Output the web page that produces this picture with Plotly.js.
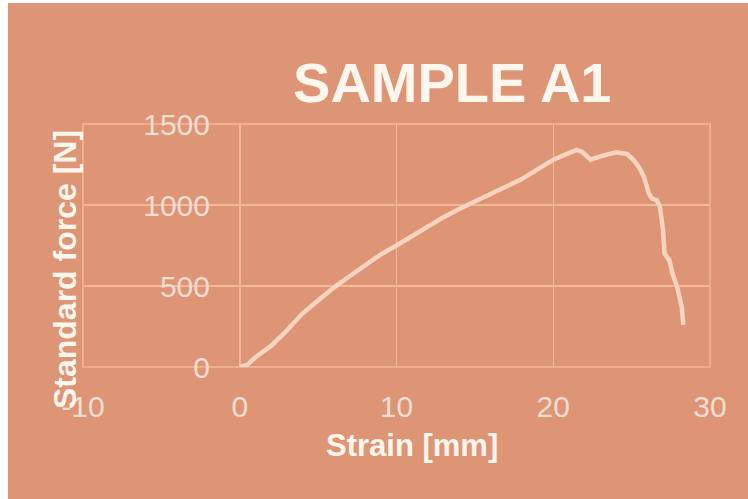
<!DOCTYPE html>
<html>
<head>
<meta charset="utf-8">
<script src="https://cdn.plot.ly/plotly-3.0.1.min.js"></script>
<style>
  html, body { margin: 0; padding: 0; background: #ffffff; }
  #chart { position: absolute; left: 8px; top: 3px; width: 740px; height: 496px; }
</style>
</head>
<body>
<div id="chart"></div>
<script>
// Strain [mm]
const strain = [0, 0.5, 1.0, 1.5, 2.0, 3.0, 4.0, 5.0, 6.0, 7.0, 8.0, 9.0, 10.0, 11.0, 12.0, 13.0, 14.0, 15.0, 16.0, 17.0, 18.0, 19.0, 20.0, 21.0, 21.5, 21.8, 22.4, 23.0, 23.5, 24.0, 24.4, 24.7, 25.1, 25.5, 25.8, 26.0, 26.1, 26.3, 26.6, 26.8, 27.0, 27.1, 27.4, 27.6, 27.9, 28.2, 28.3];
// Standard force [N]
const force = [0, 15, 60, 95, 130, 225, 330, 410, 490, 560, 630, 695, 750, 810, 870, 925, 975, 1020, 1070, 1110, 1160, 1220, 1280, 1320, 1340, 1330, 1280, 1300, 1310, 1325, 1320, 1315, 1280, 1230, 1170, 1110, 1070, 1040, 1030, 990, 850, 700, 660, 580, 495, 370, 260];

const titleText = "SAMPLE A1";
const xTitle = "Strain [mm]";
const yTitle = "Standard force [N]";
const xTicks = [-10, 0, 10, 20, 30];
const yTicks = [0, 500, 1000, 1500];

const bg = "#DE9575";
const grid = "#F2B899";
const lineCol = "#F7D4BF";
const tickCol = "#F1DED3";
const titleCol = "#FFF6EE";
const font = "Liberation Sans, Arial, sans-serif";

const trace = {
  x: strain, y: force, type: "scatter", mode: "lines",
  line: { color: lineCol, width: 4.5, shape: "linear" },
  hoverinfo: "skip"
};

const layout = {
  width: 740, height: 496,
  paper_bgcolor: bg, plot_bgcolor: bg,
  margin: { l: 75, r: 38, t: 121, b: 132 },
  showlegend: false,
  title: {
    text: "<b>" + titleText + "</b>",
    font: { family: font, size: 56, color: titleCol },
    xref: "paper", x: 0.589, xanchor: "center",
    yref: "container", y: 0.84, yanchor: "middle"
  },
  xaxis: {
    range: [-10, 30], tickvals: xTicks, ticktext: xTicks.map(String),
    showgrid: true, gridcolor: grid, gridwidth: 1.5,
    zeroline: false, showline: false,
    ticks: "outside", ticklen: 13, tickcolor: "rgba(0,0,0,0)",
    tickfont: { family: font, size: 30, color: tickCol },
    fixedrange: true
  },
  yaxis: {
    range: [0, 1500], tickvals: yTicks,
    anchor: "free", position: 0.2504,
    showgrid: true, gridcolor: grid, gridwidth: 1.5,
    zeroline: false, showline: false,
    ticks: "outside", ticklen: 24, tickcolor: "rgba(0,0,0,0)",
    tickfont: { family: font, size: 30, color: tickCol },
    fixedrange: true
  },
  shapes: [
    { type: "rect", xref: "paper", yref: "paper", x0: 0, x1: 1, y0: 0, y1: 1,
      line: { color: grid, width: 1.5 }, fillcolor: "rgba(0,0,0,0)", layer: "below" }
  ],
  annotations: [
    {
      text: "<b>" + xTitle + "</b>", xref: "paper", yref: "paper",
      x: 0.525, y: -0.321, xanchor: "center", yanchor: "middle", showarrow: false,
      font: { family: font, size: 31, color: titleCol }
    },
    {
      text: "<b>" + yTitle + "</b>", xref: "paper", yref: "paper",
      x: -0.0287, y: 0.399, xanchor: "center", yanchor: "middle", showarrow: false,
      textangle: -90,
      font: { family: font, size: 32, color: titleCol }
    }
  ]
};

Plotly.newPlot("chart", [trace], layout, { displayModeBar: false, staticPlot: true });
</script>
</body>
</html>
